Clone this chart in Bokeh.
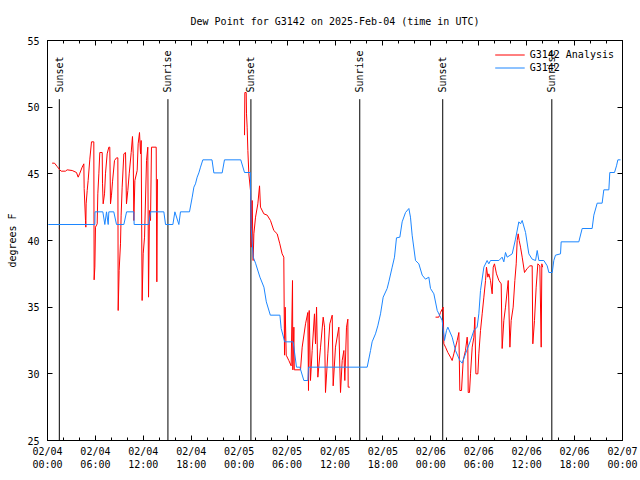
import math
from bokeh.plotting import figure
from bokeh.models import LinearAxis, FixedTicker, Legend, LegendItem, ColumnDataSource
from bokeh.embed import file_html
from bokeh.resources import INLINE
from bokeh.core.properties import value

NAN = float("nan")

# hours since 2025-02-04 00:00 UTC
analysis_hours = [
    0.58, 0.88, 1.21, 1.54, 1.71, 2.25, 2.46, 3.09, 3.63, 3.84, 4.05, 4.34, 4.55, 4.59, 4.76, 4.80,
    4.84, 4.97, 5.09, 5.30, 5.51, 5.80, 5.84, 5.93, 6.01, 6.22, 6.30, 6.43, 6.55, 6.85, 6.89, 6.97,
    7.14, 7.26, 7.47, 7.68, 7.80, 7.89, 8.01, 8.14, 8.39, 8.64, 8.81, 8.85, 8.97, 9.14, 9.22, 9.35,
    9.56, 9.77, 9.89, 10.06, 10.23, 10.48, 10.64, 10.73, 10.81, 10.94, 11.23, 11.35, 11.52, 11.65,
    11.73, 11.85, 11.98, 12.15, 12.40, 12.56, 12.65, 12.77, 12.90, 13.02, 13.61, 13.69, 13.77, NAN,
    24.67, 24.71, 24.88, 24.92, 25.00, 25.09, 25.21, 25.42, 25.50, 25.63, 25.75, 25.84, 26.05, 26.34,
    26.55, 26.67, 27.09, 27.51, 27.92, 28.34, 28.76, 29.09, 29.38, 29.59, 29.68, 29.76, 29.89, 30.22,
    30.51, 30.68, 30.72, 30.85, 30.90, 31.68, 31.89, 32.31, 32.60, 32.68, 32.77, 32.93, 33.14, 33.43,
    33.56, 33.69, 33.85, 34.19, 34.52, 34.69, 34.81, 35.10, 35.35, 35.65, 35.77, 36.06, 36.48, 36.69,
    36.90, 37.11, 37.23, 37.44, 37.61, 37.65, 37.86, NAN,
    48.59, 49.00, 49.21, 49.55, 49.63, 49.84, 50.13, 50.46, 50.67, 50.88, 51.09, 51.30, 51.51, 51.63,
    51.84, 52.05, 52.34, 52.55, 52.63, 52.68, 52.84, 52.97, 53.18, 53.39, 53.51, 53.64, 53.89, 54.01,
    54.22, 54.43, 54.64, 54.85, 54.97, 55.14, 55.26, 55.47, 55.68, 55.81, 55.97, 56.22, 56.52, 56.81,
    56.93, 57.14, 57.35, 57.69, 57.90, 58.06, 58.31, 58.52, 58.69, 58.81, 58.94, 59.06, 59.23, 59.44,
    59.73, 60.06, 60.40, 60.69, 60.77, 60.98, 61.19, 61.40, 61.65, 61.82, 61.90, 62.00,
]
analysis_values = [
    45.8, 45.8, 45.55, 45.3, 45.2, 45.2, 45.3, 45.25, 45.1, 44.75, 45.05, 45.5, 45.75, 43.9, 41.5, 41.0,
    42.75, 43.75, 44.5, 46.1, 47.4, 47.4, 37.05, 38.0, 41.0, 41.25, 43.5, 45.0, 46.6, 46.6, 44.25, 42.75,
    43.5, 45.0, 46.5, 47.0, 47.0, 42.75, 43.4, 44.4, 46.0, 46.2, 46.2, 34.75, 37.75, 39.75, 41.9, 44.0,
    46.5, 46.6, 42.75, 43.75, 45.0, 46.6, 47.8, 46.5, 41.5, 44.5, 45.25, 47.25, 48.1, 46.5,
    47.5, 35.5, 39.0, 40.25, 46.0, 47.0, 35.75, 42.25, 41.5, 47.0, 47.0, 36.9, 44.6, NAN,
    47.9, 51.1, 51.1, 49.5, 48.5, 46.75, 45.0, 43.75, 39.5, 43.0, 38.5, 40.5, 41.75, 42.75,
    44.1, 42.5, 42.0, 41.9, 41.5, 40.75, 40.5, 39.75, 39.0, 38.75, 31.4, 35.0, 31.4, 31.0,
    30.6, 37.0, 30.3, 33.5, 30.3, 30.3, 32.0, 33.75, 34.6, 28.75, 34.75, 29.5, 31.75, 34.5,
    32.25, 35.0, 29.75, 32.0, 34.25, 33.5, 28.6, 31.5, 33.75, 34.4, 29.1, 32.0, 33.5, 28.6,
    31.0, 31.75, 29.5, 33.5, 34.1, 29.0, 29.0, NAN,
    34.25, 34.25, 34.6, 35.0, 32.25, 32.0, 31.6, 31.25, 31.0, 31.5, 32.0, 32.5, 33.1, 28.75,
    28.75, 31.0, 31.75, 32.75, 32.1, 28.6, 28.6, 30.0, 32.0, 32.75, 34.25, 30.0, 30.0, 31.5,
    33.25, 34.5, 35.75, 37.0, 38.0, 37.25, 37.5, 37.0, 36.0, 38.0, 38.25, 37.5, 37.0, 36.75,
    31.9, 34.0, 35.0, 37.0, 32.0, 34.0, 35.0, 37.0, 38.25, 40.0, 40.5, 40.0, 39.5, 38.75,
    37.6, 37.9, 38.1, 38.1, 32.25, 34.0, 36.5, 38.25, 38.1, 32.0, 38.25, 38.0,
]

obs_hours = [
    0.10, 5.93, 5.95, 6.93, 7.18, 7.39, 7.60, 7.68, 8.30, 8.64, 9.56, 9.90, 10.81, 10.85, 12.69, 12.90,
    14.57, 14.78, 15.70, 15.95, 16.45, 16.65, 17.78, 18.12, 18.33, 18.53, 18.74, 18.95, 19.16, 19.45,
    20.60, 20.83, 21.87, 22.16, 24.20, 24.67, 25.40, 25.50, 25.76, 26.05, 26.60, 27.10, 27.40, 27.90,
    29.10, 29.26, 29.70, 30.76, 31.18, 31.60, 32.10, 32.60, 32.68, 40.03, 40.45, 40.65, 41.07, 41.36,
    41.70, 42.03, 42.53, 42.74, 43.16, 43.45, 43.70, 44.12, 44.41, 44.83, 45.25, 45.45, 45.66, 46.08,
    46.50, 46.92, 47.33, 47.75, 47.96, 48.38, 48.80, 49.42, 49.71, 49.96, 50.13, 50.67, 51.09, 51.63,
    51.93, 52.34, 52.97, 53.39, 53.80, 54.01, 54.22, 54.64, 55.05, 55.26, 55.47, 56.52, 56.93, 57.14,
    57.35, 57.56, 58.19, 58.60, 59.02, 59.23, 59.44, 59.86, 60.27, 60.69, 61.11, 61.32, 61.53, 62.15,
    62.57, 62.78, 63.20, 63.40, 63.61, 64.24, 64.32, 66.53, 66.95, 68.20, 68.41, 68.83, 69.45, 69.66,
    70.29, 70.41, 71.00, 71.25, 71.42, 71.75,
]
obs_values = [
    41.2, 41.2, 42.15, 42.15, 41.2, 42.15, 41.2, 42.15, 42.15, 41.2, 41.2, 42.15, 42.15, 41.2, 41.2, 42.15,
    42.15, 41.2, 41.2, 42.15, 41.2, 42.15, 42.15, 43.25, 44.0, 44.25, 44.75, 45.07, 45.5, 46.05,
    46.05, 45.07, 45.07, 46.05, 46.05, 45.1, 45.1, 41.0, 38.75, 38.3, 37.25, 36.5, 35.4, 34.4,
    34.4, 33.4, 32.4, 32.4, 30.5, 30.5, 29.5, 29.5, 30.5, 30.5, 31.75, 32.4, 33.0, 33.6,
    34.5, 35.75, 36.4, 36.9, 38.0, 38.75, 40.2, 40.25, 41.4, 42.1, 42.4, 41.75, 40.4, 38.5,
    38.25, 37.4, 37.1, 37.25, 36.4, 36.0, 34.75, 34.0, 32.5, 33.25, 33.5, 32.75, 31.75, 31.0,
    30.8, 31.5, 32.5, 33.25, 33.5, 34.5, 36.25, 38.0, 38.5, 38.25, 38.5, 38.5, 38.75, 38.4,
    39.1, 38.75, 39.0, 40.1, 41.4, 41.25, 41.5, 40.6, 39.0, 38.6, 38.5, 39.25, 38.5, 38.5,
    38.1, 37.6, 37.6, 38.5, 38.9, 39.0, 39.9, 39.9, 40.9, 40.9, 41.9, 42.8, 42.8, 43.8,
    43.8, 45.1, 45.1, 45.6, 46.05, 46.05,
]

sun_hours = [1.48, 15.08, 25.47, 39.10, 49.49, 63.15]
sun_names = ["Sunset", "Sunrise", "Sunset", "Sunrise", "Sunset", "Sunrise"]

x_ticks = [0, 6, 12, 18, 24, 30, 36, 42, 48, 54, 60, 66, 72]
x_tick_labels = ["02/04\n00:00", "02/04\n06:00", "02/04\n12:00", "02/04\n18:00",
                 "02/05\n00:00", "02/05\n06:00", "02/05\n12:00", "02/05\n18:00",
                 "02/06\n00:00", "02/06\n06:00", "02/06\n12:00", "02/06\n18:00",
                 "02/07\n00:00"]
x_minor = list(range(0, 73, 2))
y_ticks = [25, 30, 35, 40, 45, 50, 55]

FONT = "DejaVu Sans Mono"
FS = "10px"

p = figure(width=640, height=480, x_range=(0, 72), y_range=(25, 55),
           output_backend="svg", toolbar_location=None,
           min_border_left=47, min_border_right=18, min_border_top=40, min_border_bottom=40,
           title="Dew Point for G3142 on 2025-Feb-04 (time in UTC)")
p.title.align = "center"
p.title.text_font = FONT
p.title.text_font_size = FS
p.title.text_font_style = "normal"
p.title.text_color = "black"
p.title.standoff = 27
p.xgrid.visible = False
p.ygrid.visible = False
p.outline_line_color = "black"
p.outline_line_width = 1
p.background_fill_color = "white"
p.border_fill_color = "white"

xt = FixedTicker(ticks=x_ticks, minor_ticks=x_minor)
yt = FixedTicker(ticks=y_ticks, minor_ticks=[])

for ax in p.xaxis:
    ax.ticker = xt
    ax.major_label_overrides = {t: l for t, l in zip(x_ticks, x_tick_labels)}
for ax in p.yaxis:
    ax.ticker = yt
    ax.axis_label = "degrees F"

top = LinearAxis(ticker=xt, major_label_standoff=0,
                 major_label_overrides={t: "" for t in x_ticks})
right = LinearAxis(ticker=yt, major_label_standoff=0,
                   major_label_overrides={t: "" for t in y_ticks})
p.add_layout(top, "above")
p.add_layout(right, "right")

for ax in list(p.xaxis) + list(p.yaxis):
    ax.axis_line_color = "black"
    ax.major_tick_in = 5
    ax.major_tick_out = 0
    ax.minor_tick_in = 3
    ax.minor_tick_out = 0
    ax.major_tick_line_color = "black"
    ax.minor_tick_line_color = "black"
    ax.major_label_text_font = FONT
    ax.major_label_text_font_size = FS
    ax.major_label_text_color = "black"
    ax.axis_label_text_font = FONT
    ax.axis_label_text_font_size = FS
    ax.axis_label_text_font_style = "normal"
    ax.axis_label_text_color = "black"

p.xaxis[0].major_label_standoff = 5
p.yaxis[0].major_label_standoff = 8
p.yaxis[0].axis_label_standoff = 6

# sunrise / sunset markers
sun_src = ColumnDataSource(dict(x=sun_hours, name=sun_names))
p.segment(x0="x", y0=25, x1="x", y1=50.6, source=sun_src, line_color="black", line_width=1)
p.text(x="x", y=51.1, text="name", source=sun_src, angle=math.pi / 2,
       text_align="left", text_baseline="middle", text_font=value(FONT),
       text_font_size=FS, text_color="black")

r_an = p.line(analysis_hours, analysis_values, line_color="#ff0000", line_width=1)
r_ob = p.line(obs_hours, obs_values, line_color="#1c86ff", line_width=1)

legend = Legend(items=[LegendItem(label="G3142 Analysis", renderers=[r_an]),
                       LegendItem(label="G3142", renderers=[r_ob])],
                location="top_right", border_line_alpha=0, background_fill_alpha=0,
                label_text_font=FONT, label_text_font_size=FS, label_text_color="black",
                glyph_width=30, glyph_height=13, label_height=13, spacing=0,
                padding=2, margin=6, label_standoff=5)
p.add_layout(legend)

open("out.html", "w").write(file_html(p, INLINE))
